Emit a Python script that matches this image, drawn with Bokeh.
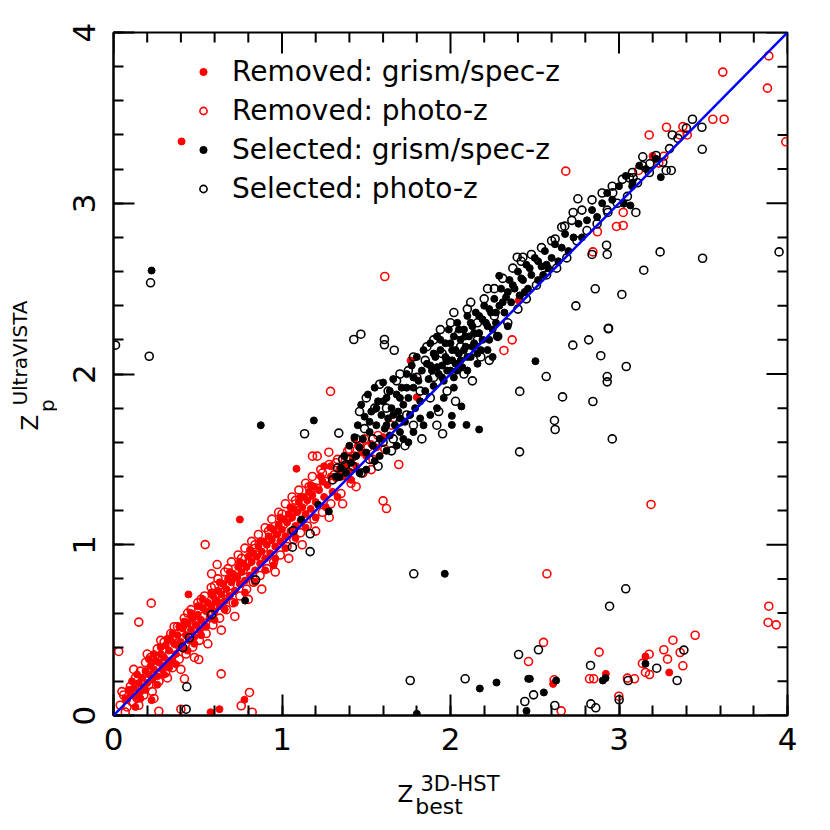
import math
from bokeh.plotting import figure
from bokeh.layouts import row, column
from bokeh.models import (Range1d, LinearAxis, SingleIntervalTicker, Slope,
                          Legend, LegendItem)
from bokeh.core.properties import value
from bokeh.embed import file_html
from bokeh.resources import INLINE

# ---------------- data ----------------
tick_values = [0, 1, 2, 3, 4]
tick_labels = ["0", "1", "2", "3", "4"]
minor_per_major = 5
one_to_one_slope = 1.0

legend_labels = ["Removed: grism/spec-z", "Removed: photo-z",
                 "Selected: grism/spec-z", "Selected: photo-z"]

x_title = ["Z", "3D-HST", "best"]        # main, superscript, subscript
y_title = ["Z", "UltraVISTA", "p"]       # main, superscript, subscript

removed_spec = [
    (0.07,0.10),(0.08,0.09),(0.10,0.13),(0.12,0.16),(0.13,0.11),(0.15,0.19),(0.16,0.14),(0.17,0.22),
    (0.18,0.16),(0.19,0.26),(0.20,0.19),(0.21,0.24),(0.22,0.29),(0.23,0.21),(0.24,0.27),(0.25,0.32),
    (0.26,0.23),(0.27,0.31),(0.28,0.36),(0.29,0.27),(0.30,0.34),(0.31,0.41),(0.32,0.30),(0.33,0.38),
    (0.34,0.44),(0.35,0.32),(0.36,0.42),(0.37,0.36),(0.38,0.47),(0.39,0.40),(0.40,0.43),(0.41,0.51),
    (0.42,0.39),(0.43,0.47),(0.44,0.54),(0.45,0.44),(0.46,0.50),(0.47,0.57),(0.48,0.46),(0.49,0.53),
    (0.50,0.59),(0.51,0.50),(0.52,0.56),(0.53,0.63),(0.54,0.53),(0.55,0.61),(0.56,0.66),(0.57,0.57),
    (0.58,0.64),(0.59,0.70),(0.60,0.61),(0.61,0.67),(0.62,0.73),(0.63,0.64),(0.64,0.71),(0.65,0.77),
    (0.66,0.67),(0.67,0.74),(0.68,0.80),(0.69,0.70),(0.70,0.78),(0.71,0.83),(0.72,0.73),(0.73,0.81),
    (0.74,0.87),(0.75,0.77),(0.76,0.84),(0.77,0.89),(0.78,0.79),(0.79,0.87),(0.80,0.93),(0.81,0.82),
    (0.82,0.90),(0.83,0.95),(0.84,0.85),(0.85,0.93),(0.86,0.99),(0.87,0.89),(0.88,0.96),(0.89,1.02),
    (0.90,0.92),(0.91,1.00),(0.92,1.05),(0.93,0.95),(0.94,1.03),(0.95,1.09),(0.96,0.99),(0.97,1.06),
    (0.98,1.12),(0.99,1.02),(1.00,1.09),(1.01,1.15),(1.02,1.05),(1.03,1.13),(1.04,1.18),(1.05,1.08),
    (1.06,1.16),(1.07,1.21),(1.08,1.11),(1.09,1.19),(1.10,1.25),(1.11,1.14),(1.12,1.22),(1.13,1.28),
    (1.14,1.18),(1.15,1.26),(1.16,1.31),(1.17,1.21),(1.18,1.29),(1.19,1.34),(1.20,1.25),(1.22,1.32),
    (1.24,1.37),(1.25,1.28),(1.27,1.35),(1.29,1.40),(1.30,1.31),(1.32,1.39),(1.34,1.44),(1.36,1.40),
    (1.38,1.47),(1.40,1.43),(1.42,1.51),(1.44,1.46),(1.47,1.54),(1.50,1.52),(1.53,1.59),(1.56,1.57),
    (1.60,1.63),
    (0.09,0.15),(0.11,0.20),(0.14,0.24),(0.16,0.10),(0.19,0.15),(0.21,0.33),(0.24,0.36),(0.26,0.18),
    (0.28,0.40),(0.30,0.24),(0.32,0.45),(0.35,0.48),(0.37,0.30),(0.39,0.52),(0.42,0.55),(0.44,0.38),
    (0.46,0.60),(0.48,0.42),(0.50,0.64),(0.53,0.68),(0.55,0.52),(0.58,0.72),(0.60,0.56),(0.63,0.78),
    (0.66,0.62),(0.69,0.84),(0.72,0.66),(0.75,0.90),(0.78,0.72),(0.81,0.97),(0.84,0.78),(0.87,1.02),
    (0.90,0.85),(0.93,1.10),(0.96,0.92),(0.99,1.16),(1.02,0.98),(1.05,1.22),(1.08,1.04),(1.11,1.28),
    (1.14,1.10),(1.17,1.35),(1.20,1.16),(1.23,1.40),(1.26,1.22),(1.29,1.46),(1.33,1.28),(1.37,1.52),
    (1.41,1.38),(1.45,1.58),
    (0.226,0.09),(0.629,0.037),(0.576,0.019),(0.777,0.092),(0.445,0.709),(0.75,1.148),(1.086,1.445),
    (0.404,3.362),(3.157,0.346),(3.298,0.252),(2.922,0.244),(2.609,0.185),(3.199,3.277),(1.782,1.981),
    (1.80,1.864),(1.763,2.079),(2.405,2.43),(0.13,0.05),(0.33,0.28),(0.52,0.47),(0.95,0.88),(1.25,1.46),
    (1.43,1.62),
]

removed_photo = [
    (0.04,0.06),(0.06,0.12),(0.08,0.05),(0.10,0.17),(0.11,0.08),(0.13,0.22),(0.14,0.10),(0.16,0.26),
    (0.17,0.16),(0.18,0.12),(0.19,0.31),(0.21,0.18),(0.22,0.34),(0.23,0.14),(0.25,0.28),(0.26,0.39),
    (0.27,0.20),(0.29,0.33),(0.30,0.43),(0.31,0.25),(0.33,0.36),(0.34,0.48),(0.35,0.28),(0.37,0.42),
    (0.38,0.52),(0.39,0.33),(0.41,0.45),(0.42,0.57),(0.43,0.36),(0.45,0.50),(0.46,0.62),(0.47,0.40),
    (0.49,0.54),(0.50,0.66),(0.51,0.44),(0.53,0.58),(0.54,0.70),(0.55,0.48),(0.57,0.63),(0.58,0.75),
    (0.59,0.53),(0.61,0.67),(0.62,0.80),(0.63,0.57),(0.65,0.72),(0.66,0.84),(0.67,0.62),(0.69,0.76),
    (0.70,0.90),(0.71,0.66),(0.73,0.81),(0.74,0.94),(0.75,0.70),(0.77,0.85),(0.78,0.98),(0.79,0.74),
    (0.81,0.90),(0.82,1.02),(0.83,0.78),(0.85,0.94),(0.86,1.06),(0.87,0.82),(0.89,0.98),(0.90,1.10),
    (0.91,0.86),(0.93,1.03),(0.94,1.15),(0.95,0.90),(0.97,1.07),(0.98,1.19),(0.99,0.94),(1.01,1.12),
    (1.02,1.24),(1.03,0.99),(1.05,1.16),(1.06,1.28),(1.07,1.03),(1.09,1.20),(1.10,1.32),(1.11,1.07),
    (1.13,1.25),(1.14,1.36),(1.15,1.11),(1.17,1.29),(1.18,1.40),(1.19,1.15),(1.21,1.33),(1.23,1.44),
    (1.24,1.19),(1.26,1.37),(1.28,1.47),(1.29,1.24),(1.31,1.41),(1.33,1.50),(1.35,1.30),(1.37,1.46),
    (1.39,1.55),(1.41,1.36),(1.43,1.52),(1.46,1.58),(1.48,1.42),(1.51,1.57),(1.54,1.50),(1.57,1.64),
    (1.61,1.56),(1.65,1.70),
    (0.05,0.14),(0.07,0.02),(0.12,0.27),(0.15,0.06),(0.20,0.36),(0.24,0.10),(0.28,0.44),(0.32,0.22),
    (0.36,0.52),(0.40,0.27),(0.44,0.60),(0.48,0.34),(0.52,0.68),(0.56,0.42),(0.60,0.76),(0.64,0.50),
    (0.68,0.86),(0.72,0.58),(0.76,0.92),(0.80,0.68),(0.84,1.00),(0.88,0.74),(0.92,1.08),(0.96,0.84),
    (1.00,1.18),(1.04,0.92),(1.08,1.26),(1.12,1.00),(1.16,1.34),(1.20,1.08),(1.24,1.42),(1.28,1.16),
    (1.32,1.48),(1.36,1.24),(1.40,1.56),(1.44,1.34),(1.49,1.62),(1.53,1.44),
    (0.031,0.375),(0.150,0.547),(0.224,0.658),(0.544,1.001),(0.615,0.884),(0.582,0.83),(0.639,0.244),
    (0.506,0.328),(0.40,0.037),(0.269,0.025),(0.807,0.135),(0.758,0.057),(0.823,0.019),(0.421,0.215),
    (1.181,1.519),(1.209,1.519),(1.278,1.542),(1.288,1.898),(1.61,2.571),(1.693,1.47),(1.60,1.257),
    (1.62,1.212),(2.317,2.138),(2.366,2.20),(2.572,0.83),(3.19,1.236),(3.889,0.64),(3.885,0.545),
    (3.933,0.531),(3.452,0.47),(3.32,0.441),(3.266,0.385),(3.363,0.369),(3.179,0.359),(3.288,0.33),
    (3.139,0.305),(3.379,0.291),(3.157,0.252),(3.181,0.24),(3.092,0.215),(3.05,0.219),(2.882,0.371),
    (2.825,0.215),(2.85,0.215),(2.999,0.113),(2.552,0.428),(2.463,0.316),(2.615,0.209),(2.657,0.027),
    (3.889,3.863),(3.616,3.768),(3.881,3.674),(3.557,3.492),(3.624,3.492),(3.99,3.36),(3.282,3.445),
    (3.379,3.449),(3.179,3.40),(3.361,3.40),(3.405,3.40),(2.684,3.188),(3.266,3.275),(3.236,3.235),
    (3.116,3.192),(3.025,2.946),(2.985,2.864),(3.025,2.87),(2.872,2.833),(2.845,2.715),
]

selected_spec = [
    (1.32,1.40),(1.35,1.45),(1.37,1.52),(1.38,1.42),(1.40,1.58),(1.41,1.48),(1.43,1.63),(1.44,1.52),
    (1.45,1.70),(1.46,1.57),(1.47,1.82),(1.48,1.62),(1.49,1.75),(1.50,1.54),(1.51,1.88),(1.52,1.66),
    (1.53,1.78),(1.54,1.58),(1.55,1.92),(1.56,1.70),(1.57,1.84),(1.58,1.62),(1.59,1.76),(1.60,1.95),
    (1.61,1.68),(1.62,1.86),(1.63,1.74),(1.64,1.64),(1.65,1.80),(1.66,1.97),(1.67,1.70),(1.68,1.88),
    (1.69,1.78),(1.70,1.66),(1.71,1.92),(1.72,1.82),(1.73,1.72),(1.74,2.00),(1.75,1.86),(1.76,1.76),
    (1.77,2.05),(1.78,1.92),(1.79,1.80),(1.80,2.10),(1.81,1.96),(1.82,1.84),(1.83,2.02),(1.84,2.14),
    (1.85,1.90),(1.86,2.06),(1.87,1.97),(1.88,2.18),(1.89,2.02),(1.90,1.93),(1.91,2.10),(1.92,2.22),
    (1.93,2.00),(1.94,2.14),(1.95,2.05),(1.96,1.96),(1.97,2.18),(1.98,2.08),(1.99,2.26),(2.00,2.02),
    (2.01,2.14),(2.02,2.22),(2.03,2.06),(2.04,2.30),(2.05,2.12),(2.06,2.20),(2.07,2.04),(2.08,2.26),
    (2.09,2.16),(2.10,2.34),(2.11,2.22),(2.12,2.10),(2.13,2.28),(2.14,2.18),(2.15,2.36),(2.17,2.24),
    (2.18,2.14),(2.19,2.32),(2.20,2.40),(2.22,2.28),(2.23,2.20),(2.24,2.36),(2.26,2.44),(2.27,2.30),
    (2.29,2.40),(2.30,2.50),(2.32,2.36),(2.33,2.45),(2.35,2.55),(2.36,2.42),(2.38,2.50),(2.40,2.60),
    (2.41,2.46),(2.43,2.55),(2.45,2.64),(2.46,2.50),(2.48,2.58),(2.50,2.68),(2.52,2.55),(2.54,2.63),
    (2.56,2.72),(2.58,2.62),(2.60,2.68),(2.62,2.76),(2.64,2.66),(2.66,2.74),(2.68,2.82),(2.70,2.72),
    (2.73,2.80),(2.76,2.88),(2.78,2.80),(2.81,2.90),(2.84,2.96),(2.87,2.92),(2.90,3.00),(2.93,3.06),
    (2.96,3.02),(3.00,3.10),(3.04,3.16),(3.08,3.12),(3.12,3.22),(3.16,3.20),(3.22,3.26),
    (1.72,1.62),(1.78,1.66),(1.84,1.70),(1.88,1.76),(1.92,1.80),(1.96,1.86),(2.02,1.92),(1.82,1.74),
    (1.75,1.60),(1.68,1.58),(1.62,1.55),(1.58,1.52),(1.55,1.49),(1.50,1.44),(1.46,1.42),(2.10,2.02),
    (2.16,2.06),(2.22,2.14),(2.28,2.22),(2.34,2.28),(2.25,2.10),
    (1.88,2.05),(1.90,2.12),(1.92,2.04),(1.94,2.20),(1.95,1.98),(1.97,2.10),(1.98,2.02),(2.00,2.18),
    (2.01,2.08),(2.02,1.98),(2.03,2.14),(2.04,2.02),(2.05,2.26),(2.06,2.08),(2.08,2.14),(2.09,2.22),
    (2.10,2.10),(2.12,2.30),(2.13,2.16),(2.14,2.24),(2.16,2.12),(2.17,2.34),(2.19,2.20),(2.21,2.30),
    (2.23,2.38),(2.25,2.26),(2.27,2.36),(2.31,2.42),(2.34,2.48),(2.37,2.52),(1.52,1.72),(1.56,1.80),
    (1.60,1.84),(1.64,1.90),(1.70,1.86),(1.74,1.92),(1.78,1.98),(1.62,1.70),(1.66,1.76),(1.70,1.74),
    (2.42,2.56),(2.47,2.62),(2.52,2.66),(2.57,2.64),(2.44,2.48),(2.55,2.58),
    (0.226,2.606),(0.874,1.70),(1.189,1.728),(1.966,0.83),(2.504,2.075),(2.008,1.755),(2.008,1.702),
    (2.095,1.702),(2.17,1.675),(2.065,1.81),(3.157,0.303),(2.92,0.219),(2.904,0.205),(2.471,0.215),
    (2.461,0.215),(2.627,0.205),(2.554,0.135),(2.451,0.027),(2.273,0.193),(2.174,0.158),(1.80,0.01),
    (0.781,0.673),(1.114,1.148),(1.278,1.195),(1.215,1.234),(1.341,1.396),(3.248,3.153),(3.078,3.10),
    (3.029,2.997),(3.068,2.987),(2.289,2.575),
]

selected_photo = [
    (1.30,1.38),(1.33,1.45),(1.36,1.50),(1.38,1.47),(1.40,1.50),(1.42,1.46),(1.44,1.62),(1.47,1.42),
    (1.49,1.68),(1.52,1.50),(1.55,1.80),(1.57,1.46),(1.60,1.60),(1.63,1.90),(1.65,1.55),(1.68,1.96),
    (1.70,1.72),(1.73,1.58),(1.75,2.02),(1.78,1.70),(1.80,1.98),(1.83,1.62),(1.85,2.08),(1.88,1.86),
    (1.90,2.20),(1.93,1.78),(1.95,2.12),(1.98,1.90),(2.00,2.30),(2.03,1.84),(2.05,2.24),(2.08,2.00),
    (2.10,2.38),(2.13,1.96),(2.16,2.30),(2.18,2.10),(2.20,2.44),(2.23,2.08),(2.26,2.50),(2.28,2.22),
    (2.31,2.56),(2.34,2.30),(2.37,2.62),(2.40,2.38),(2.42,2.66),(2.45,2.44),(2.48,2.70),(2.51,2.52),
    (2.54,2.74),(2.57,2.58),(2.60,2.78),(2.63,2.62),(2.66,2.86),(2.69,2.68),(2.72,2.90),(2.75,2.78),
    (2.78,2.96),(2.81,2.84),(2.84,3.02),(2.87,2.88),(2.90,3.06),(2.93,2.96),(2.96,3.10),(2.99,3.00),
    (3.02,3.14),(3.05,3.04),(3.08,3.18),(3.11,3.12),(3.14,3.22),(3.18,3.18),(3.22,3.28),(3.26,3.24),
    (3.30,3.32),(3.35,3.38),(3.40,3.44),
    (1.46,1.78),(1.50,1.86),(1.54,1.62),(1.58,1.94),(1.62,1.80),(1.66,1.62),(1.70,2.00),(1.74,1.76),
    (1.78,2.10),(1.82,1.90),(1.86,2.16),(1.90,1.98),(1.94,2.26),(1.98,2.08),(2.02,2.36),(2.06,2.16),
    (2.12,2.42),(2.16,2.20),(2.22,2.50),(2.26,2.34),
    (0.012,2.169),(0.22,2.534),(0.212,2.104),(0.435,0.168),(0.431,0.037),(0.411,0.398),(0.451,0.455),
    (0.582,0.591),(0.843,0.794),(1.062,0.986),(1.167,1.064),(1.167,0.96),(1.066,1.083),(1.134,1.65),
    (1.337,1.654),(1.426,2.202),(1.468,2.233),(1.608,2.202),(1.608,2.171),(1.666,2.139),(1.782,0.83),
    (1.761,0.205),(2.087,0.215),(1.953,1.65),(1.919,1.70),
    (2.936,2.265),(2.82,2.20),(2.726,2.169),(2.892,2.107),(3.043,2.044),(2.568,1.985),(2.93,1.985),
    (2.93,1.954),(2.411,1.898),(2.665,1.866),(2.845,1.839),(2.617,1.728),(2.621,1.675),(2.96,1.62),
    (2.41,1.544),(3.04,0.742),(2.944,0.64),(3.385,0.383),(3.224,0.277),(3.345,0.205),(3.054,0.205),
    (2.831,0.293),(2.833,0.068),(2.862,0.045),(3.001,0.092),(2.522,0.385),(2.404,0.357),(2.493,0.121),
    (2.441,0.082),(2.619,0.059),
    (3.436,3.492),(3.492,3.445),(3.316,3.40),(3.494,3.316),(3.141,3.272),(3.183,3.231),(3.28,3.192),
    (3.31,3.192),(3.084,3.149),(3.062,3.149),(2.963,3.061),(2.756,3.026),(2.934,2.946),(2.728,2.946),
    (3.10,2.946),(2.678,2.866),(2.621,2.791),(2.926,2.754),(3.244,2.715),(3.496,2.678),(3.95,2.715),
    (3.147,2.608),(3.017,2.466),(2.859,2.499),(2.744,2.399),(2.938,2.268),(2.93,2.70),(2.84,2.70),
    (2.396,2.684),(2.43,2.684),
]

# ---------------- layout (pixels in the page) ----------------
FONT = "DejaVu Sans"
TOTAL_W = 814
LEFT_W = 57                # strip holding the y title
MAIN_H = 765               # height of the main plot canvas
BOTTOM_H = 57              # strip holding the x title
FL, FR, FT, FB = 113, 787, 32, 715          # frame edges, page pixels
SX = (FR - FL) / 4.0
SY = (FB - FT) / 4.0

p = figure(width=TOTAL_W - LEFT_W, height=MAIN_H, x_range=Range1d(0, 4), y_range=Range1d(0, 4),
           output_backend="svg", toolbar_location=None,
           x_axis_type=None, y_axis_type=None,
           min_border_left=FL - LEFT_W, min_border_right=TOTAL_W - FR,
           min_border_top=FT, min_border_bottom=MAIN_H - FB)
p.xgrid.visible = False
p.ygrid.visible = False
p.outline_line_color = "black"
p.outline_line_width = 2
p.background_fill_color = "white"
p.border_fill_color = "white"


def make_axis(vertical=False):
    ax = LinearAxis(ticker=SingleIntervalTicker(interval=1, num_minor_ticks=minor_per_major))
    ax.major_tick_in = 21
    ax.major_tick_out = 0
    ax.minor_tick_in = 10
    ax.minor_tick_out = 0
    ax.axis_line_width = 2
    ax.major_tick_line_width = 2
    ax.minor_tick_line_width = 2
    ax.axis_line_color = "black"
    ax.major_tick_line_color = "black"
    ax.minor_tick_line_color = "black"
    ax.major_label_overrides = {v: s for v, s in zip(tick_values, tick_labels)}
    ax.major_label_text_font = FONT
    ax.major_label_text_font_size = "31px"
    ax.major_label_text_color = "black"
    if vertical:
        ax.major_label_orientation = "vertical"
        ax.major_label_standoff = 19
    else:
        ax.major_label_standoff = 12
    return ax


p.add_layout(make_axis(), "below")
p.add_layout(make_axis(vertical=True), "left")

# ticks along the top and right frame edges (these edges carry no labels)
major_t = list(tick_values)
n_minor = (tick_values[-1] - tick_values[0]) * minor_per_major
minor_t = [tick_values[0] + i / minor_per_major for i in range(n_minor + 1) if i % minor_per_major]
tick_style = dict(line_color="black", line_width=2)
top = tick_values[-1]
p.segment(x0=major_t, x1=major_t, y0=[top] * len(major_t), y1=[top - 21 / SY] * len(major_t), **tick_style)
p.segment(x0=minor_t, x1=minor_t, y0=[top] * len(minor_t), y1=[top - 10 / SY] * len(minor_t), **tick_style)
p.segment(y0=major_t, y1=major_t, x0=[top] * len(major_t), x1=[top - 21 / SX] * len(major_t), **tick_style)
p.segment(y0=minor_t, y1=minor_t, x0=[top] * len(minor_t), x1=[top - 10 / SX] * len(minor_t), **tick_style)


def xy(series):
    return [a for a, b in series], [b for a, b in series]


rx, ry = xy(removed_spec)
r_rf = p.scatter(rx, ry, marker="circle", size=7, fill_color="#ff0000", line_color="#ff0000", line_width=1)
rx, ry = xy(removed_photo)
r_ro = p.scatter(rx, ry, marker="circle", size=8, fill_color=None, line_color="#ff0000", line_width=1.6)
rx, ry = xy(selected_spec)
r_bf = p.scatter(rx, ry, marker="circle", size=7, fill_color="black", line_color="black", line_width=1)
rx, ry = xy(selected_photo)
r_bo = p.scatter(rx, ry, marker="circle", size=8, fill_color=None, line_color="black", line_width=1.6)

p.add_layout(Slope(gradient=one_to_one_slope, y_intercept=0, line_color="#0000ff", line_width=2.5))

legend = Legend(items=[LegendItem(label=l, renderers=[r]) for l, r in
                       zip(legend_labels, [r_rf, r_ro, r_bf, r_bo])],
                location=(194 - FL, FB - 208), orientation="vertical",
                border_line_color=None, background_fill_alpha=0,
                padding=0, margin=0, spacing=0,
                glyph_width=18, glyph_height=39, label_height=39, label_standoff=20,
                label_text_font=FONT, label_text_font_size="28px", label_text_color="black")
p.add_layout(legend)


def strip(w, h):
    f = figure(width=w, height=h, x_range=Range1d(0, w), y_range=Range1d(0, h),
               output_backend="svg", toolbar_location=None,
               x_axis_type=None, y_axis_type=None, min_border=0)
    f.xgrid.visible = False
    f.ygrid.visible = False
    f.outline_line_color = None
    f.background_fill_color = "white"
    f.border_fill_color = "white"
    return f


# y title strip (left of the main plot): text reads bottom-to-top, centred pieces
left = strip(LEFT_W, MAIN_H)
y_pos = [(29, 437), (19, 359), (46, 418)]      # text anchor points, page pixels
y_sizes = ["23px", "20px", "20px"]
for t, (cx, cy), fs in zip(y_title, y_pos, y_sizes):
    left.text(x=[cx], y=[MAIN_H - cy], text=[t], angle=math.pi / 2,
              text_font=value(FONT), text_font_size=value(fs), text_color="black",
              text_align="center", text_baseline="middle")

# x title strip (below the plot), centred pieces
bottom = strip(TOTAL_W, BOTTOM_H)
x_pos = [(405, 793), (459.5, 783), (438.5, 805.5)]
x_sizes = ["23px", "21px", "22px"]
for t, (cx, cy), fs in zip(x_title, x_pos, x_sizes):
    bottom.text(x=[cx], y=[MAIN_H + BOTTOM_H - cy], text=[t],
                text_font=value(FONT), text_font_size=value(fs), text_color="black",
                text_align="center", text_baseline="middle")

layout = column(row(left, p, spacing=0), bottom, spacing=0)
open("out.html", "w").write(file_html(layout, INLINE))
